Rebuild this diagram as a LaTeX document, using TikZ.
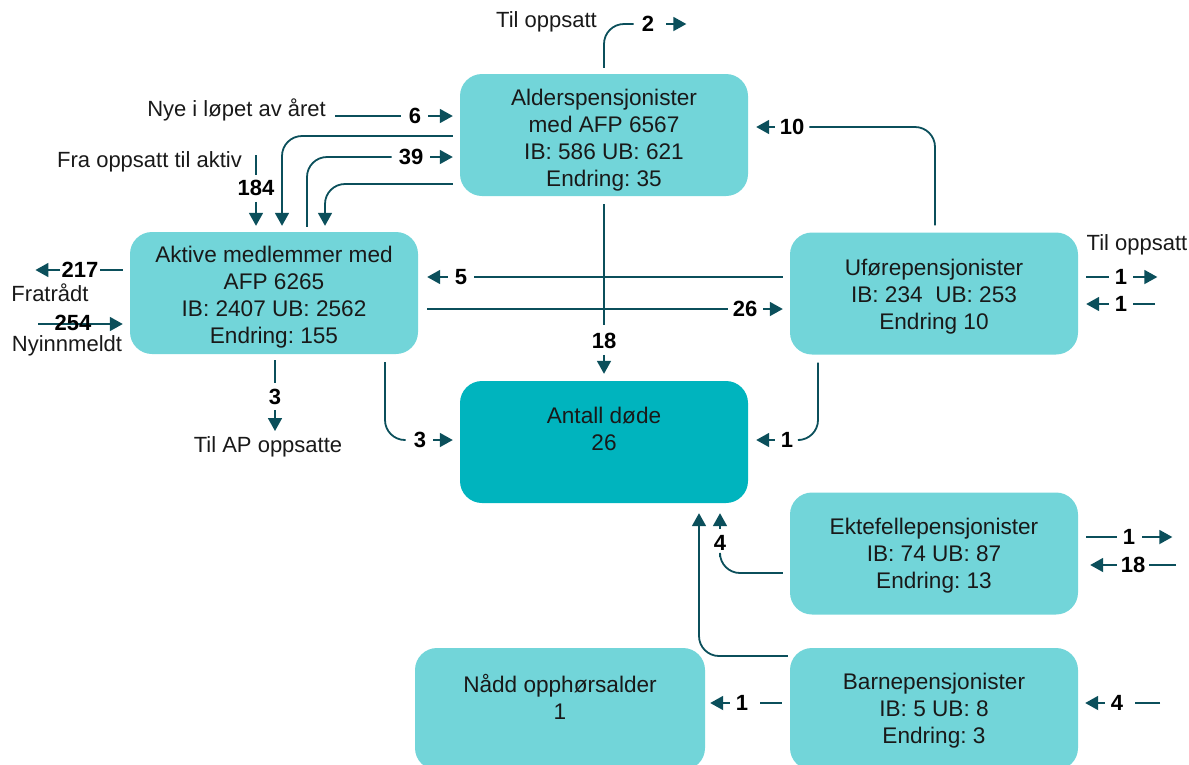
\documentclass[tikz,border=0pt]{standalone}
\usepackage{fontspec}
\setmainfont{Liberation Sans}
\usetikzlibrary{arrows.meta}
\definecolor{boxl}{HTML}{72D5D9}
\definecolor{boxd}{HTML}{00B4BE}
\definecolor{ln}{HTML}{0B4F5B}
\newcommand{\tp}[1]{\rule{0pt}{#1pt}}
\frenchspacing
\begin{document}
\frenchspacing
\begin{tikzpicture}[x=1pt,y=-1pt,
  box/.style={fill=boxl, rounded corners=22pt, minimum width=288pt, minimum height=122pt, align=center, font=\fontsize{22.6}{27}\selectfont, text=black!90, inner sep=0pt},
  lbl/.style={font=\fontsize{22}{27}\selectfont, text=black!90, inner sep=0pt},
  num/.style={font=\bfseries\fontsize{22}{26}\selectfont, text=black, inner sep=0pt},
  flow/.style={draw=ln, line width=1.8pt, rounded corners=20pt},
  arr/.style={flow, -{Triangle[length=13pt,width=14pt]}}]
\useasboundingbox (0,0) rectangle (1189,764);
\clip (0,0) rectangle (1189,764);

% boxes
\node[box] (alder) at (604,135) {\tp{26}Alderspensjonister\\med AFP 6567\\IB: 586 UB: 621\\Endring: 35};
\node[box] (aktive) at (274,293) {\tp{24}Aktive medlemmer med\\AFP 6265\\IB: 2407 UB: 2562\\Endring: 155};
\node[box] (ufore) at (934,293.5) {\tp{22}Uførepensjonister\\IB: 234\ \ UB: 253\\Endring 10};
\node[box, fill=boxd] (dode) at (604,442) {\tp{26}Antall døde\\26\\\strut};
\node[box] (ektef) at (934,553.5) {\tp{20}Ektefellepensjonister\\IB: 74 UB: 87\\Endring: 13};
\node[box] (barne) at (934,709) {\tp{20}Barnepensjonister\\IB: 5 UB: 8\\Endring: 3};
\node[box, minimum width=290pt] (naadd) at (560,709) {\tp{29}Nådd opphørsalder\\1\\\strut};

% A: Til oppsatt (top)
\node[lbl, anchor=east] (tto) at (597,22) {Til oppsatt};
\node[num] (n2) at (648,24) {2};
\draw[flow, shorten <=6pt] (alder.north) |- ([xshift=-8pt]n2.west);
\draw[arr] ([xshift=12pt]n2.east) -- ++(20,0);

% B: Nye i loepet av aaret
\node[lbl, anchor=east] (tnye) at (326,110) {Nye i løpet av året};
\node[num] (n6) at (415,116) {6};
\draw[flow] ([xshift=9pt]tnye.east |- n6) -- ([xshift=-8pt]n6.west);
\draw[arr, shorten >=7pt] ([xshift=7pt]n6.east) -- (alder.west |- n6);

% C: Alder -> Aktive (unlabelled)
\draw[arr, shorten <=7pt, shorten >=6pt] (alder.west |- 0,136) -| (aktive.north -| 282,0);

% D: 39
\node[num] (n39) at (411,157) {39};
\draw[flow, shorten <=5pt] (aktive.north -| 307,0) |- ([xshift=-7pt]n39.west);
\draw[arr, shorten >=7pt] ([xshift=7pt]n39.east) -- (alder.west |- n39);

% E: Alder -> Aktive (unlabelled)
\draw[arr, shorten <=7pt, shorten >=6pt] (alder.west |- 0,184) -| (aktive.north -| 325,0);

% F: Fra oppsatt til aktiv
\node[lbl, anchor=east] (tfra) at (242,162) {Fra oppsatt til aktiv};
\node[num] (n184) at (256,188) {184};
\coordinate (cfra) at (256,155);
\draw[flow] (cfra) -- ([yshift=5pt]n184.north);
\draw[arr, shorten >=6pt] ([yshift=-6pt]n184.south) -- (aktive.north -| n184);

% G: 217 Fratraadt
\node[num] (n217) at (80,270) {217};
\draw[flow, shorten <=7pt] (aktive.west |- n217) -- ([xshift=1pt]n217.east);
\draw[arr] ([xshift=-1pt]n217.west) -- ++(-25,0);
\node[lbl] (tfrat) at (50,293) {Fratrådt};

% H: 254 Nyinnmeldt
\coordinate (c254) at (38,324);
\draw[arr, shorten >=7pt] (c254) -- (aktive.west |- c254);
\node[num] (n254) at (73,323) {254};
\node[lbl] (tnyinn) at (67,346) {Nyinnmeldt};

% I: 3 til AP oppsatte
\node[num] (n3a) at (275,397) {3};
\draw[flow, shorten <=6pt] (aktive.south -| n3a) -- ([yshift=6pt]n3a.north);
\draw[arr] ([yshift=-5pt]n3a.south) -- ++(0,21);
\node[lbl] (tap) at (268,447) {Til AP oppsatte};

% J: Aktive -> doede 3
\node[num] (n3b) at (420,440) {3};
\draw[flow, shorten <=8pt] (aktive.south -| 385,0) |- ([xshift=-8pt]n3b.west);
\draw[arr, shorten >=7pt] ([xshift=7pt]n3b.east) -- (dode.west |- n3b);

% K: Ufoere -> Aktive 5
\node[num] (n5) at (461,277) {5};
\draw[flow, shorten <=7pt] (ufore.west |- n5) -- ([xshift=7pt]n5.east);
\draw[arr, shorten >=9pt] ([xshift=-7pt]n5.west) -- (aktive.east |- n5);

% L: Aktive -> Ufoere 26
\node[num] (n26) at (745,309) {26};
\draw[flow, shorten <=9pt] (aktive.east |- n26) -- ([xshift=-5pt]n26.west);
\draw[arr, shorten >=7pt] ([xshift=6pt]n26.east) -- (ufore.west |- n26);

% M: Alder -> doede 18
\node[num] (n18) at (604,341) {18};
\draw[flow, shorten <=8pt] (alder.south) -- ([yshift=8pt]n18.north);
\draw[arr, shorten >=7pt] ([yshift=-6pt]n18.south) -- (dode.north);

% N: Ufoere -> Alder 10
\node[num] (n10) at (792,127) {10};
\draw[flow, shorten <=7pt] (ufore.north -| 935,0) |- ([xshift=5pt]n10.east);
\draw[arr, shorten >=8pt] ([xshift=-5pt]n10.west) -- (alder.east |- n10);

% O: Ufoere right side
\node[lbl] (tto2) at (1137,245) {Til oppsatt};
\node[num] (n1a) at (1121,277) {1};
\node[num] (n1b) at (1121,304) {1};
\draw[flow, shorten <=8pt] (ufore.east |- n1a) -- ([xshift=-6pt]n1a.west);
\draw[arr] ([xshift=6pt]n1a.east) -- ++(24,0);
\coordinate (c1b) at (1155,304);
\draw[flow] (c1b) -- ([xshift=6pt]n1b.east);
\draw[arr, shorten >=8pt] ([xshift=-6pt]n1b.west) -- (ufore.east |- n1b);

% P: Ufoere -> doede 1
\node[num] (n1c) at (787,440) {1};
\draw[flow, shorten <=8pt] (ufore.south -| 818,0) |- ([xshift=7pt]n1c.east);
\draw[arr, shorten >=8pt] ([xshift=-6pt]n1c.west) -- (dode.east |- n1c);

% Q: Ektefelle -> doede 4
\node[num] (n4a) at (720,543) {4};
\draw[flow, shorten <=7pt] (ektef.west |- 0,573) -| ([yshift=-6pt]n4a.south);
\draw[arr, shorten >=10pt] ([yshift=6pt]n4a.north) -- (dode.south -| n4a);

% Ektefelle right side
\node[num] (n1d) at (1129,537) {1};
\draw[flow, shorten <=8pt] (ektef.east |- n1d) -- ([xshift=-6pt]n1d.west);
\draw[arr] ([xshift=7pt]n1d.east) -- ++(30,0);
\node[num] (n18b) at (1133,565) {18};
\coordinate (c18b) at (1176,565);
\draw[flow] (c18b) -- ([xshift=4pt]n18b.east);
\draw[arr, shorten >=12pt] ([xshift=-4pt]n18b.west) -- (ektef.east |- n18b);

% R: Barne -> doede
\draw[arr, shorten <=2pt, shorten >=10pt] (barne.west |- 0,656) -| (dode.south -| 699,0);

% S: Barne -> Naadd 1
\node[num] (n1e) at (742,703) {1};
\draw[flow, shorten <=8pt] (barne.west |- n1e) -- ([xshift=12pt]n1e.east);
\draw[arr, shorten >=5pt] ([xshift=-6pt]n1e.west) -- (naadd.east |- n1e);

% T: into Barne 4
\node[num] (n4b) at (1117,703) {4};
\coordinate (c4b) at (1160,703);
\draw[flow] (c4b) -- ([xshift=12pt]n4b.east);
\draw[arr, shorten >=7pt] ([xshift=-6pt]n4b.west) -- (barne.east |- n4b);
\end{tikzpicture}
\end{document}
